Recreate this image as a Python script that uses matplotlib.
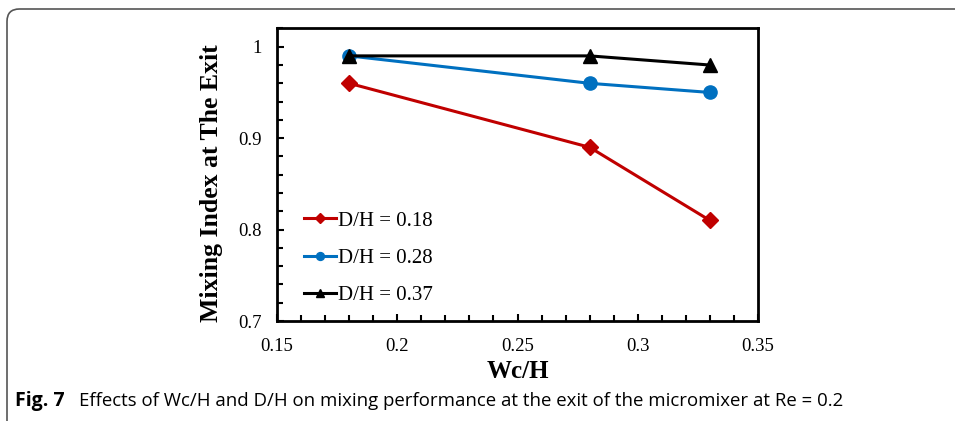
import matplotlib.pyplot as plt
from matplotlib.patches import FancyBboxPatch
from matplotlib.ticker import MultipleLocator

wc_h = [0.18, 0.28, 0.33]
mix_018 = [0.96, 0.89, 0.81]
mix_028 = [0.99, 0.96, 0.95]
mix_037 = [0.99, 0.99, 0.98]
labels = ["D/H = 0.18", "D/H = 0.28", "D/H = 0.37"]

serif = ["Liberation Serif", "DejaVu Serif"]

fig = plt.figure(figsize=(9.55, 4.21), dpi=100)
ax = fig.add_axes([277 / 955, 1 - 321 / 421, 481 / 955, 293 / 421])

ax.plot(wc_h, mix_018, color="#C00000", lw=2.2, marker="D", ms=8.5, label=labels[0])
ax.plot(wc_h, mix_028, color="#0070C0", lw=2.2, marker="o", ms=9.5, label=labels[1])
ax.plot(wc_h, mix_037, color="black", lw=2.2, marker="^", ms=10, label=labels[2])

ax.set_xlim(0.15, 0.35)
ax.set_ylim(0.7, 1.0205)
ax.xaxis.set_minor_locator(MultipleLocator(0.01))
ax.yaxis.set_minor_locator(MultipleLocator(0.02))
ax.set_xticks([0.15, 0.2, 0.25, 0.3, 0.35], ["0.15", "0.2", "0.25", "0.3", "0.35"])
ax.set_yticks([0.7, 0.8, 0.9, 1.0], ["0.7", "0.8", "0.9", "1"])
ax.tick_params(which="both", direction="in", top=False, right=False, width=1.5, labelsize=13.5)
ax.tick_params(which="major", length=5)
ax.tick_params(axis="x", which="major", pad=12)
ax.tick_params(axis="y", which="major", pad=11)
ax.tick_params(which="minor", length=4)
for lab in ax.get_xticklabels() + ax.get_yticklabels():
    lab.set_family(serif)
for s in ax.spines.values():
    s.set_linewidth(2)

ax.set_xlabel("Wc/H", family=serif, fontsize=18, fontweight="bold", labelpad=4)
ax.set_ylabel("Mixing Index at The Exit", family=serif, fontsize=18.5, fontweight="bold")
ax.yaxis.set_label_coords(-0.113, 0.47)

leg = ax.legend(loc="lower left", bbox_to_anchor=(0.018, -0.01), frameon=False,
                prop={"family": serif, "size": 15}, handlelength=1.5, handletextpad=0.1,
                markerscale=0.6, labelspacing=0.85)

# caption and outer frame
y_cap = 1 - 401 / 421
fig.text(15 / 955, y_cap, "Fig. 7", fontsize=14, va="center", fontweight="bold", family="Open Sans")
fig.text(79 / 955, y_cap,
         "Effects of Wc/H and D/H on mixing performance at the exit of the micromixer at Re = 0.2",
         fontsize=13.4, va="center", family="Open Sans")
box = FancyBboxPatch((7 / 955, -0.1), 1.1, 1 - 9 / 421 + 0.1, boxstyle="round,pad=0,rounding_size=0.013",
                     transform=fig.transFigure, fill=False, edgecolor="#555555", lw=1.2,
                     mutation_aspect=955 / 421)
fig.patches.append(box)

fig.savefig("out.png", dpi=100)
